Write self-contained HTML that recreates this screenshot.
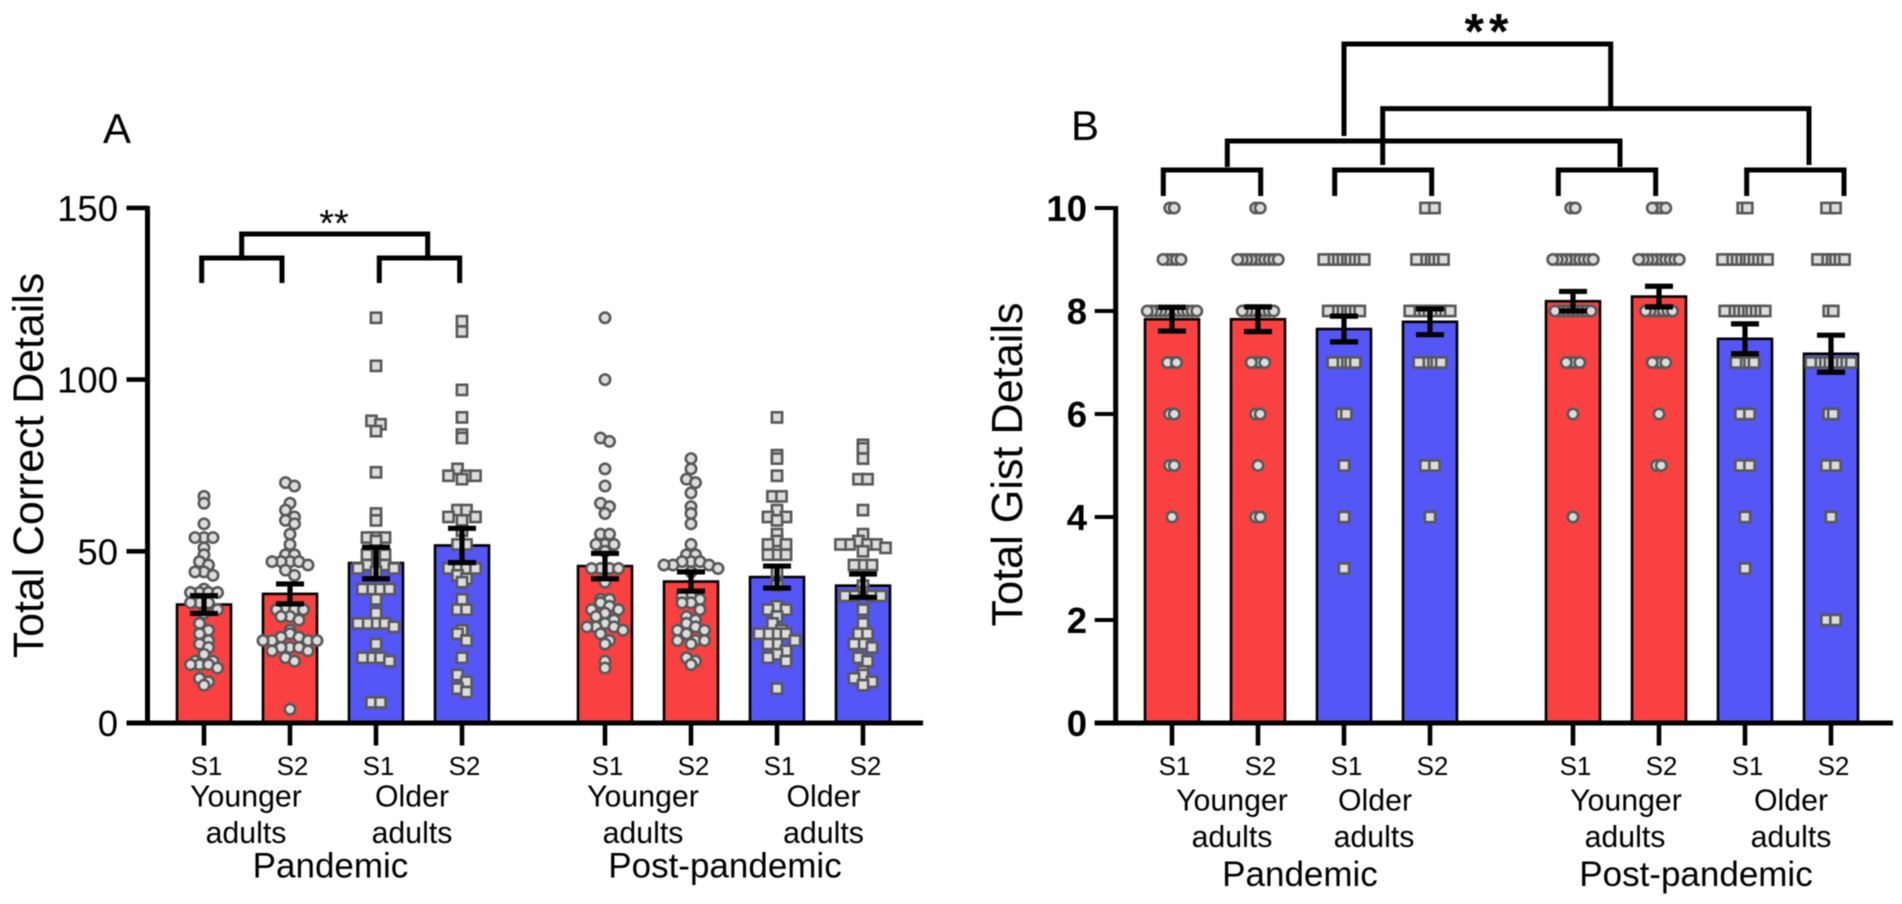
<!DOCTYPE html>
<html lang="en">
<head>
<meta charset="utf-8">
<title>Total Correct and Gist Details</title>
<style>
html,body{margin:0;padding:0;background:#fff;}
svg{display:block;font-family:"Liberation Sans",Arial,sans-serif;fill:#000;filter:blur(0.45px);}
.tick-s{font-size:26px;text-anchor:middle;}
.group{font-size:30.3px;text-anchor:middle;}
.period{font-size:35px;text-anchor:middle;}
.letter{font-size:42px;}
.bracket{fill:none;stroke:#000;stroke-width:5;stroke-linejoin:miter;}
</style>
</head>
<body>
<svg id="chart" width="1902" height="904" viewBox="0 0 1902 904" xmlns="http://www.w3.org/2000/svg">
  <rect x="0" y="0" width="1902" height="904" fill="#fff"/>

  <g id="panel-a"></g>
  <g id="panel-b"></g>

  <text class="letter" x="103" y="143">A</text>
  <text class="letter" x="1071" y="140">B</text>
  <text font-size="42.8" text-anchor="middle" transform="translate(43,465.5) rotate(-90)">Total Correct Details</text>
  <text font-size="43.2" text-anchor="middle" transform="translate(1022,464.5) rotate(-90)">Total Gist Details</text>

  <path class="bracket" d="M201.7 283V258H282V283"/>
  <path class="bracket" d="M379.3 283V258H459.7V283"/>
  <path class="bracket" d="M241.7 256V234H427.7V256"/>
  <text x="334" y="236" font-size="38" text-anchor="middle">**</text>

  <path class="bracket" d="M1163.3 196V170H1260.7V196"/>
  <path class="bracket" d="M1334.7 196V170H1431.7V196"/>
  <path class="bracket" d="M1558.3 196V170H1655.7V196"/>
  <path class="bracket" d="M1746.7 196V170H1844V196"/>
  <path class="bracket" d="M1227.3 167V141H1620V167"/>
  <path class="bracket" d="M1382.7 165V108.6H1809V165"/>
  <path class="bracket" d="M1344 136V44H1610.7V108"/>
  <text x="1489" y="48.5" font-size="50" font-weight="bold" text-anchor="middle" letter-spacing="5">**</text>

  <text class="group" x="246" y="806.5">Younger</text>
  <text class="group" x="246" y="843">adults</text>
  <text class="group" x="412" y="806.5">Older</text>
  <text class="group" x="412" y="843">adults</text>
  <text class="group" x="643" y="806.5">Younger</text>
  <text class="group" x="643" y="843">adults</text>
  <text class="group" x="823.5" y="806.5">Older</text>
  <text class="group" x="823.5" y="843">adults</text>
  <text class="period" x="330.5" y="877.5">Pandemic</text>
  <text class="period" x="725" y="877.5">Post-pandemic</text>

  <text class="group" x="1232" y="810.5">Younger</text>
  <text class="group" x="1232" y="847">adults</text>
  <text class="group" x="1375" y="810.5">Older</text>
  <text class="group" x="1374" y="847">adults</text>
  <text class="group" x="1626" y="810.5">Younger</text>
  <text class="group" x="1625" y="847">adults</text>
  <text class="group" x="1791" y="810.5">Older</text>
  <text class="group" x="1791" y="847">adults</text>
  <text class="period" x="1300" y="886">Pandemic</text>
  <text class="period" x="1696" y="886">Post-pandemic</text>
</svg>

<script>
const sessions = ["S1", "S2", "S1", "S2", "S1", "S2", "S1", "S2"];
const barGroups = ["younger", "younger", "older", "older", "younger", "younger", "older", "older"];

const aTicks = [0, 50, 100, 150];
const aMeans = [34.5, 37.6, 46.6, 51.7, 45.7, 41.2, 42.5, 40];
const aErrors = [2.6, 2.9, 4.6, 5, 3.7, 2.8, 3.2, 3.4];
const aPoints0 = [66,64,58,54,54,54,51,49,47,46,44,44,43,39,38,38,38,38,35,35,35,33,32,29,27,26,24,23,22,20,18,18,17,17,17,16,13,12,11];
const aPoints1 = [70,69,64,62,60,59,58,55,52,49,49,47,47,47,47,46,44.5,43,33,33,33,33,31,31,30,27,26,25,25,24,24,24,24,22,22,22,21,21,19,18,4];
const aPoints2 = [118,104,88,87,85,73,61,59,54,54,54,53,49,49,49,46,46,46,45,45,44,39,39,39,39,36,32,29,29,29,29,28,23,19,19,19,18,6,6];
const aPoints3 = [117,114,97,89,84,83,74,72,72,72,71,62,62,60,60,59,56,52,52,45,45,45,45,43,42,41,36,33,33,27,26,24,19,14,12,10,9];
const aPoints4 = [118,100,83,82,74,69,64,63,61,55,55,52,52,52,50,45,45,45,45,41,36,36,35,34,33,33,32,31,30,29,28,28,28,27,26,24,23,18,16];
const aPoints5 = [77,74,71,70,67,63,61,58,52,49,49,47,47,47,46,46,46,45,44,37,37,36,35,35,33,31,30,29,28,27,27,26,24,24,24,23,19,18,17];
const aPoints6 = [89,78,77,72,66,66,62,60,60,59,55,53,52,52,49,49,49,44,40,34,33,33,31,29,27,26,26,26,26,24,23,23,21,20,19,18,10];
const aPoints7 = [81,80,77,71,71,62,55,53,52,52,52,52,51,50,46,46,46,40,38,37,37,37,37,33,29,26,26,23,23,22,19,18,15,14,13,12,11];
const aPoints = [aPoints0, aPoints1, aPoints2, aPoints3, aPoints4, aPoints5, aPoints6, aPoints7];

const bTicks = [0, 2, 4, 6, 8, 10];
const bMeans = [7.84, 7.84, 7.65, 7.79, 8.19, 8.28, 7.46, 7.17];
const bErrors = [0.23, 0.24, 0.25, 0.25, 0.19, 0.2, 0.29, 0.36];
const bPoints0 = [10,10,9,9,9,9,9,8,8,8,8,8,8,8,8,8,8,8,8,7,7,7,6,6,5,5,4];
const bPoints1 = [10,10,9,9,9,9,9,9,9,9,9,9,8,8,8,8,8,8,8,8,7,7,7,7,6,6,5,4,4];
const bPoints2 = [9,9,9,9,9,9,9,9,9,9,8,8,8,8,8,8,8,8,7,7,7,7,7,7,6,6,5,4,3];
const bPoints3 = [10,10,10,9,9,9,9,9,9,9,8,8,8,8,8,8,8,8,8,8,7,7,7,7,7,7,5,5,5,4];
const bPoints4 = [10,10,9,9,9,9,9,9,9,9,9,9,8,8,8,8,8,8,8,8,8,7,7,7,7,6,4];
const bPoints5 = [10,10,10,10,9,9,9,9,9,9,9,9,9,9,8,8,8,8,8,8,8,7,7,7,7,6,5,5];
const bPoints6 = [10,10,9,9,9,9,9,9,9,9,9,9,9,8,8,8,8,8,8,8,8,8,8,7,7,7,7,7,6,6,6,5,5,5,4,3];
const bPoints7 = [10,10,10,9,9,9,9,9,9,9,8,8,7,7,7,7,7,7,7,7,7,7,6,6,5,5,5,4,2,2,2];
const bPoints = [bPoints0, bPoints1, bPoints2, bPoints3, bPoints4, bPoints5, bPoints6, bPoints7];

const NS = "http://www.w3.org/2000/svg";
const RED = "#f94141";
const BLUE = "#5556f6";

function mk(parent, tag, attrs) {
  const el = document.createElementNS(NS, tag);
  for (const k in attrs) el.setAttribute(k, attrs[k]);
  parent.appendChild(el);
  return el;
}

/* Bin values, then spread each bin symmetrically around the bar centre. */
function swarm(values, binSize, step, maxOffset) {
  const bins = new Map();
  values.forEach(function (v) {
    const key = Math.floor(v / binSize);
    if (!bins.has(key)) bins.set(key, []);
    bins.get(key).push(v);
  });
  const placed = [];
  bins.forEach(function (list) {
    list.sort(function (a, b) { return b - a; });
    const n = list.length;
    const s = Math.min(step, n > 1 ? (2 * maxOffset) / (n - 1) : step);
    const slots = [];
    for (let i = 0; i < n; i++) slots.push((i - (n - 1) / 2) * s);
    slots.sort(function (a, b) { return Math.abs(a) - Math.abs(b); });
    list.forEach(function (v, i) { placed.push({ v: v, dx: slots[i] }); });
  });
  return placed;
}

function drawPanel(rootId, cfg) {
  const root = document.getElementById(rootId);
  const x = function (i) { return cfg.x0 + i * 86 + (i >= 4 ? 57 : 0); };
  const y = function (v) { return cfg.y0 - v * cfg.pxPerUnit; };

  cfg.means.forEach(function (m, i) {
    const bar = mk(root, "rect", {
      x: x(i) - 27, y: y(m), width: 54, height: y(0) - y(m),
      fill: barGroups[i] === "younger" ? RED : BLUE, stroke: "#000", "stroke-width": 2.6
    });
    
    
  });

  cfg.points.forEach(function (vals, i) {
    swarm(vals, cfg.binSize, cfg.step, 27).forEach(function (p) {
      let mark;
      if (barGroups[i] === "younger") {
        mark = mk(root, "circle", {
          cx: x(i) + p.dx, cy: y(p.v), r: 5.2,
          fill: "#dcdcdc", stroke: "#585858", "stroke-width": 2.6
        });
      } else {
        mark = mk(root, "rect", {
          x: x(i) + p.dx - 5.1, y: y(p.v) - 5.1, width: 10.2, height: 10.2,
          fill: "#dcdcdc", stroke: "#585858", "stroke-width": 2.6
        });
      }
      
      
    });
  });

  cfg.means.forEach(function (m, i) {
    const hi = y(m + cfg.errors[i]);
    const lo = y(m - cfg.errors[i]);
    const cx = x(i);
    const d = "M" + (cx - 14) + " " + hi + "H" + (cx + 14) +
              "M" + cx + " " + hi + "V" + lo +
              "M" + (cx - 14) + " " + lo + "H" + (cx + 14);
    const err = mk(root, "path", { d: d, fill: "none", stroke: "#000", "stroke-width": 5.2 });
    
    
  });

  const yAxis = mk(root, "line", {
    x1: cfg.axisX, x2: cfg.axisX, y1: y(cfg.ticks[cfg.ticks.length - 1]) - 2, y2: y(0) + 2.4,
    stroke: "#000", "stroke-width": 5
  });
  
  

  const xAxis = mk(root, "line", {
    x1: cfg.axisX - 21, x2: cfg.axisEnd, y1: y(0), y2: y(0),
    stroke: "#000", "stroke-width": 5
  });
  
  

  cfg.ticks.forEach(function (t) {
    const tm = mk(root, "line", {
      x1: cfg.axisX - 21, x2: cfg.axisX, y1: y(t), y2: y(t),
      stroke: "#000", "stroke-width": cfg.tickWidth
    });
    
    

    const lab = mk(root, "text", {
      x: cfg.labelX, y: y(t) + 13, "text-anchor": "end",
      "font-size": 36.5, "font-weight": cfg.tickWeight
    });
    lab.textContent = String(t);
    
    
  });

  sessions.forEach(function (s, i) {
    const tm = mk(root, "line", {
      x1: x(i), x2: x(i), y1: y(0), y2: y(0) + 22.5,
      stroke: "#000", "stroke-width": 4.6
    });
    
    

    const lab = mk(root, "text", { x: x(i) + 2.5, y: 775, class: "tick-s" });
    lab.textContent = s;
    
    
  });
}

drawPanel("panel-a", {
  x0: 204, y0: 723, pxPerUnit: 3.434, axisX: 147.5, axisEnd: 923, labelX: 118,
  tickWidth: 4.6, tickWeight: "normal", ticks: aTicks, means: aMeans, errors: aErrors,
  points: aPoints, binSize: 3, step: 9
});
drawPanel("panel-b", {
  x0: 1172, y0: 723, pxPerUnit: 51.5, axisX: 1115.7, axisEnd: 1893, labelX: 1087,
  tickWidth: 4, tickWeight: "bold", ticks: bTicks, means: bMeans, errors: bErrors,
  points: bPoints, binSize: 1, step: 4.5
});
</script>
</body>
</html>
